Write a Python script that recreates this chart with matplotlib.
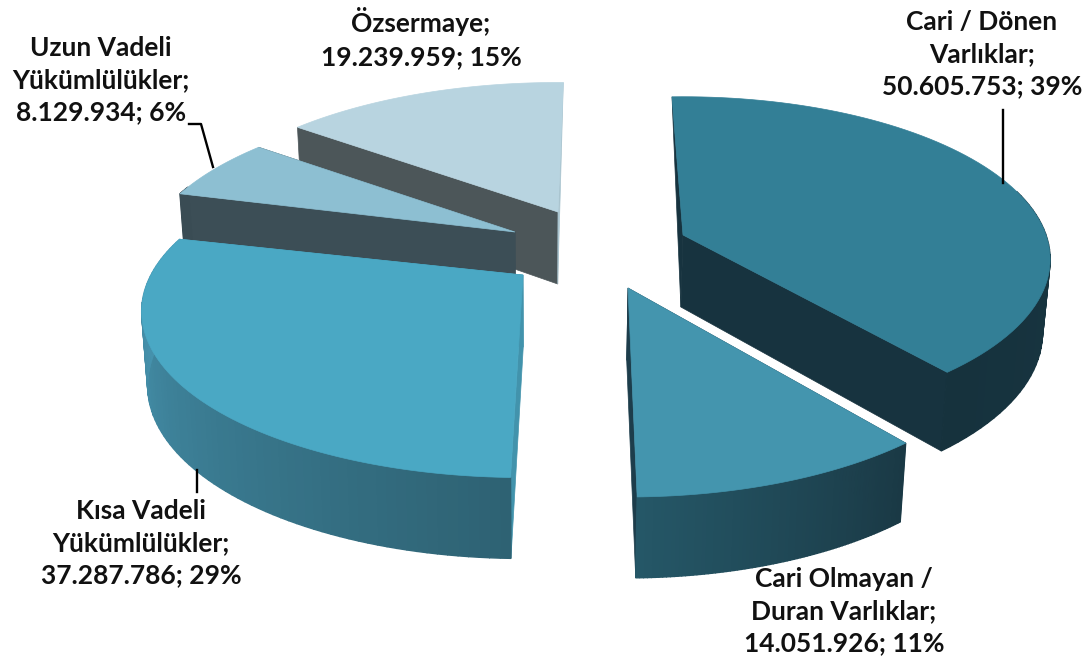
import numpy as np
import matplotlib
matplotlib.use('Agg')
import matplotlib.pyplot as plt
from matplotlib.colors import to_rgb
from matplotlib.patches import Polygon

labels = ['Cari / Dönen\nVarlıklar;\n50.605.753; 39%',
          'Cari Olmayan /\nDuran Varlıklar;\n14.051.926; 11%',
          'Kısa Vadeli\nYükümlülükler;\n37.287.786; 29%',
          'Uzun Vadeli\nYükümlülükler;\n8.129.934; 6%',
          'Özsermaye;\n19.239.959; 15%']
values = [50605753, 14051926, 37287786, 8129934, 19239959]

# look of each slice, same order as values
apex_x = [683, 628, 523, 515, 558]
apex_y = [235, 288, 275, 232, 212]
slice_a = [363, 372, 372, 366, 372]
slice_b = [159, 163, 158, 158, 158]
slice_k = [0.15, 0.22, 0.22, 0.22, 0.22]
# the original view skews the cuts a little, degrees
start_nudge = [-3, 0, 0.5, 0, 0]
end_nudge = [-2, -2.1, -1, 0, 0]
top_colors = ['#337f96', '#4495ae', '#4aa8c4', '#8dbfd2', '#b8d4e0']
side_start = ['#1a3a47', '#1a3945', '#2e6273', '#3a4c54', '#4c5659']
side_end = ['#16323d', '#255767', '#4a9bb8', '#3a4c54', '#4c5659']
wall_start = ['#17333f', '#1d3d4b', '#4293ac', '#3c4e56', '#4c5659']
wall_end = ['#17333f', '#1d3d4b', '#4293ac', '#3c4e56', '#a9c4cf']
label_x = [982, 844, 141, 101, 421]
label_y = [54, 611, 543, 80, 38]
draw_order = [4, 3, 0, 2, 1]

START = 1
K_DEPTH = 0.11
DEPTH = 72
VANISH_X, SHRINK = 540, 0.985


def project(theta, cx, cy, a, b, k):
    # simple perspective, the back of the pie is squeezed
    t = np.radians(theta)
    s = 1 / (1 + k * np.cos(t))
    return cx + a * np.sin(t) * s, cy - b * np.cos(t) * s


def drop(x, y, theta=None):
    # matching point on the bottom face, walls get taller towards the viewer
    if theta is None:
        d = DEPTH
    else:
        d = DEPTH / (1 + K_DEPTH * np.cos(np.radians(theta)))
    return VANISH_X + (x - VANISH_X) * SHRINK, y + d


fig = plt.figure(figsize=(10.87, 6.66), dpi=100)
ax = fig.add_axes([0, 0, 1, 1])
ax.set_xlim(0, 1087)
ax.set_ylim(666, 0)
ax.axis('off')

edges = START + np.concatenate([[0], np.cumsum(values)]) / sum(values) * 360

for i in draw_order:
    cx, cy = apex_x[i], apex_y[i]
    th = np.linspace(edges[i] + start_nudge[i], edges[i + 1] + end_nudge[i], 80)
    px, py = project(th, cx, cy, slice_a[i], slice_b[i], slice_k[i])
    qx, qy = drop(px, py, th)
    bx, by = drop(cx, cy)

    # flat walls along both cut edges
    for k, col in ((0, wall_start[i]), (-1, wall_end[i])):
        t = np.radians(th[k])
        if np.cos(t) > 0 and abs(np.sin(t)) < 0.2:
            # cut points straight back, only a sliver shows
            pts = [(cx, cy), (px[k], py[k]), (bx, by)]
        else:
            pts = [(cx, cy), (px[k], py[k]), (qx[k], qy[k]), (bx, by)]
        ax.add_patch(Polygon(pts, fc=col, ec=col, lw=0.5))

    # outer wall, short strips so the colour can shift along the arc
    c0, c1 = np.array(to_rgb(side_start[i])), np.array(to_rgb(side_end[i]))
    for j in range(len(th) - 1):
        if np.cos(np.radians(th[j])) > 0.3:
            continue
        f = j / (len(th) - 2)
        col = c0 + (c1 - c0) * f
        ax.add_patch(Polygon([(px[j], py[j]), (px[j + 1], py[j + 1]),
                              (qx[j + 1], qy[j + 1]), (qx[j], qy[j])],
                             fc=col, ec=col, lw=1))

    ax.add_patch(Polygon(np.column_stack([np.r_[cx, px], np.r_[cy, py]]),
                         fc=top_colors[i], ec=top_colors[i], lw=0.5))

# leader lines
ax.plot([1003, 1003], [110, 183], color='black', lw=1.7)
ax.plot([189, 201, 213], [124, 124, 167], color='black', lw=1.7)
ax.plot([197, 197], [470, 492], color='black', lw=1.7)

for i, lab in enumerate(labels):
    ax.text(label_x[i], label_y[i], lab, ha='center', va='center', fontsize=19,
            fontweight='bold', family='Lato', color='#111111', linespacing=1.42)

fig.savefig('out.png', dpi=100)
